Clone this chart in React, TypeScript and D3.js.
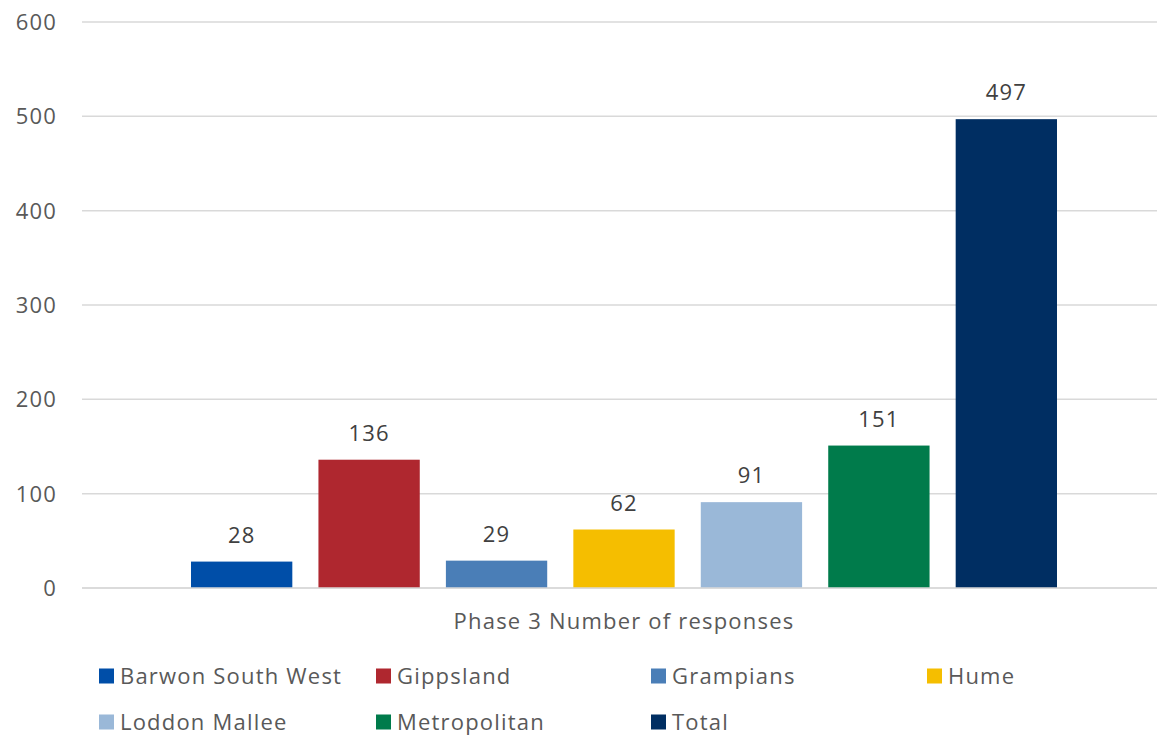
import React from "react";
import * as d3 from "d3";

const categories = ["Phase 3 Number of responses"];
const seriesNames = ["Barwon South West", "Gippsland", "Grampians", "Hume", "Loddon Mallee", "Metropolitan", "Total"];
const seriesValues = [28, 136, 29, 62, 91, 151, 497];
const seriesColors = ["#004EA8", "#AF272F", "#4A7EB7", "#F5BE00", "#9AB8D8", "#007B4B", "#002E62"];
const yTicks = [0, 100, 200, 300, 400, 500, 600];

const W = 1157;
const H = 735;
const FONT = "'Open Sans', Lato, sans-serif";
const LS = 1.2;

export default function App() {
  const plotLeft = 82;
  const plotRight = 1166;
  const y = d3.scaleLinear().domain([0, 600]).range([588, 22]);
  const x0 = d3.scaleBand<string>().domain(categories).range([plotLeft, plotRight]).paddingOuter(0.1).paddingInner(0);
  const clusterStart = 191;
  const clusterEnd = 1057;
  const x1 = d3.scaleBand<string>().domain(seriesNames).range([clusterStart, clusterEnd]).paddingInner(0.205).paddingOuter(0);
  const catCenter = (x0(categories[0]) as number) + x0.bandwidth() / 2;

  const legendCols = [99, 376, 651, 927];
  const legendRows = [676, 722];

  return (
    <svg width={W} height={H} style={{ position: "absolute", left: 0, top: 0, display: "block", background: "#fff" }} fontFamily={FONT}>
      {yTicks.map((t) => (
        <g key={t}>
          <line x1={plotLeft} x2={plotRight} y1={y(t)} y2={y(t)} stroke="#D9D9D9" strokeWidth={1.5} />
          <text x={57} y={y(t)} dy="0.36em" textAnchor="end" fontSize={22} letterSpacing={LS} fill="#595959">{t}</text>
        </g>
      ))}
      {seriesNames.map((s, i) => {
        const bx = x1(s) as number;
        const top = y(seriesValues[i]);
        return (
          <g key={s}>
            <rect x={bx} y={top} width={x1.bandwidth()} height={y(0) - top} fill={seriesColors[i]} />
            <text x={bx + x1.bandwidth() / 2} y={top - 19} textAnchor="middle" fontSize={22} letterSpacing={LS} fill="#404040">{seriesValues[i]}</text>
          </g>
        );
      })}
      <line x1={plotLeft} x2={plotRight} y1={y(0)} y2={y(0)} stroke="#D9D9D9" strokeWidth={1.5} />
      <text x={catCenter} y={629} textAnchor="middle" fontSize={22} letterSpacing={LS} fill="#595959">{categories[0]}</text>
      {seriesNames.map((s, i) => {
        const col = i % 4;
        const row = Math.floor(i / 4);
        const lx = legendCols[col];
        const ly = legendRows[row];
        return (
          <g key={"lg" + s}>
            <rect x={lx} y={ly - 7.5} width={15} height={15} fill={seriesColors[i]} />
            <text x={lx + 21} y={ly} dy="0.36em" fontSize={22} letterSpacing={LS} fill="#595959">{s}</text>
          </g>
        );
      })}
    </svg>
  );
}
